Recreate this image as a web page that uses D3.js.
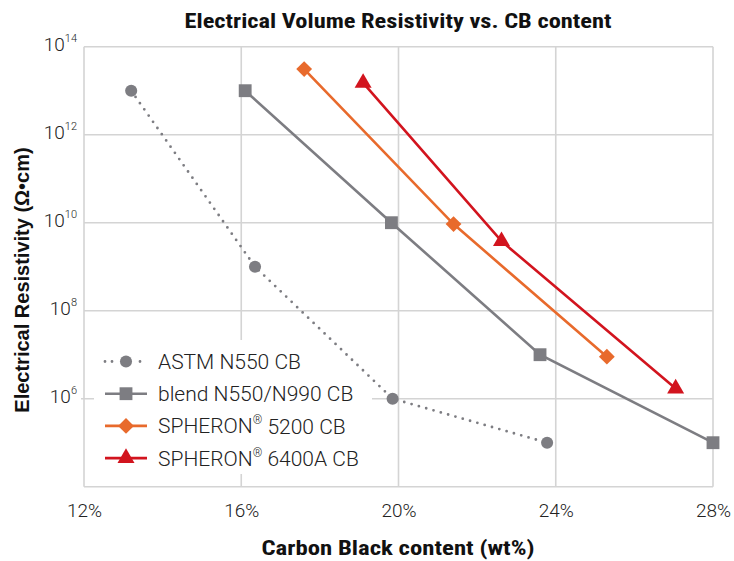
<!DOCTYPE html>
<html><head><meta charset="utf-8">
<script src="https://cdn.jsdelivr.net/npm/d3@7"></script>
<style>
body{margin:0;background:#fff;}
svg{display:block;}
</style></head>
<body><svg id="chart" width="734" height="561"></svg>
<script>
// ---- data ----
const seriesNames = ["ASTM N550 CB", "blend N550/N990 CB", "SPHERON® 5200 CB", "SPHERON® 6400A CB"];
const astmX = [13.2, 16.35, 19.85, 23.78];
const astmY = [1e13, 1e9, 1e6, 1e5];
const blendX = [16.1, 19.82, 23.6, 28.0];
const blendY = [1e13, 1e10, 1e7, 1e5];
const s5200X = [17.6, 21.4, 25.3];
const s5200Y = [3.1e13, 9.3e9, 9e6];
const s6400X = [19.1, 22.62, 27.05];
const s6400Y = [1.5e13, 3.8e9, 1.7e6];
const xTicks = [12, 16, 20, 24, 28];
const yTicks = [4, 6, 8, 10, 12, 14];

const colors = ["#7d7d82", "#7d7d82", "#e86a2c", "#d2141e"];
const symbols = [d3.symbolCircle, d3.symbolSquare, d3.symbolSquare, d3.symbolTriangle];
const symRot = [0, 0, 45, 0];
const symSizes = [115, 165, 125, 125];

const series = [
  {x: astmX, y: astmY},
  {x: blendX, y: blendY},
  {x: s5200X, y: s5200Y},
  {x: s6400X, y: s6400Y}
].map((s, i) => ({name: seriesNames[i], pts: s.x.map((v, j) => [v, s.y[j]]), color: colors[i], symbol: symbols[i], rot: symRot[i], size: symSizes[i], dotted: i === 0}));

const svg = d3.select("#chart");
const L = 84, R = 713, T = 46.7, B = 486.7;
const x = d3.scaleLinear().domain([12, 28]).range([L, R]);
const y = d3.scaleLog().domain([1e4, 1e14]).range([B, T]);

const gridColor = "#d4d4d4";
const tickFont = "Roboto, 'DejaVu Sans', sans-serif";

// grid
svg.append("g").selectAll("line").data(xTicks.slice(1)).join("line")
  .attr("x1", d => x(d)).attr("x2", d => x(d)).attr("y1", T).attr("y2", B)
  .attr("stroke", gridColor).attr("stroke-width", 1.6);
svg.append("g").selectAll("line").data(yTicks.slice(1)).join("line")
  .attr("x1", d => d === 6 ? L - 3 : L).attr("x2", R).attr("y1", d => y(Math.pow(10, d))).attr("y2", d => y(Math.pow(10, d)))
  .attr("stroke", gridColor).attr("stroke-width", 1.6);
svg.append("line").attr("x1", L).attr("x2", L).attr("y1", T).attr("y2", B).attr("stroke", gridColor).attr("stroke-width", 1.6);
svg.append("line").attr("x1", L).attr("x2", R).attr("y1", B).attr("y2", B).attr("stroke", gridColor).attr("stroke-width", 1.6);

// legend background (under data, over grid)
svg.append("rect").attr("x", 94).attr("y", 340).attr("width", 278).attr("height", 134).attr("fill", "#fff");

// x axis labels
const xAxis = d3.axisBottom(x).tickValues(xTicks).tickSize(0).tickPadding(0).tickFormat(d => d + "%");
const gx = svg.append("g").attr("transform", `translate(0,${B + 24})`).call(xAxis);
gx.select(".domain").remove();
gx.selectAll("text").attr("font-family", tickFont).attr("font-weight", 300).attr("font-size", 19).attr("fill", "#222").attr("dy", "0.35em").attr("y", 0);

// y axis labels with superscripts
const yAxis = d3.axisLeft(y).tickValues(yTicks.map(e => Math.pow(10, e))).tickSize(0).tickPadding(0).tickFormat("");
const gy = svg.append("g").attr("transform", `translate(${L - 7},0)`).call(yAxis);
gy.select(".domain").remove();
gy.selectAll(".tick").filter(d => d > 1e4).each(function(d) {
  const t = d3.select(this).select("text");
  t.text(null).attr("font-family", tickFont).attr("font-weight", 300).attr("fill", "#222").attr("text-anchor", "end").attr("x", 0).attr("dy", "0.4em");
  t.append("tspan").attr("font-size", 19).text("10");
  t.append("tspan").attr("font-size", 11).attr("dy", "-0.8em").text(Math.round(Math.log10(d)));
});
gy.selectAll(".tick").filter(d => d <= 1e4).remove();

// lines + markers
const line = d3.line().x(d => x(d[0])).y(d => y(d[1]));
series.forEach(s => {
  svg.append("path").datum(s.pts).attr("d", line).attr("fill", "none")
    .attr("stroke", s.color).attr("stroke-width", s.dotted ? 2.8 : 2.6)
    .attr("stroke-linecap", s.dotted ? "round" : "butt")
    .attr("stroke-dasharray", s.dotted ? "0 7.6" : null);
  svg.append("g").selectAll("path").data(s.pts).join("path")
    .attr("transform", d => `translate(${x(d[0])},${y(d[1])}) rotate(${s.rot})`)
    .attr("d", d3.symbol().type(s.symbol).size(s.size)).attr("fill", s.color);
});

// legend content
const leg = svg.append("g");
series.forEach((s, i) => {
  const cy = 361.5 + i * 32.2;
  leg.append("line").attr("x1", 105).attr("x2", 147).attr("y1", cy).attr("y2", cy)
    .attr("stroke", s.color).attr("stroke-width", s.dotted ? 2.8 : 2.6)
    .attr("stroke-linecap", s.dotted ? "round" : "butt")
    .attr("stroke-dasharray", s.dotted ? "0 7" : null);
  if (s.dotted) leg.append("rect").attr("x", 116).attr("y", cy - 8).attr("width", 20).attr("height", 16).attr("fill", "#fff");
  leg.append("path").attr("transform", `translate(126,${cy}) rotate(${s.rot})`).attr("d", d3.symbol().type(s.symbol).size(s.size)).attr("fill", s.color);
  const parts = s.name.split("®");
  const t = leg.append("text").attr("x", 158).attr("y", cy).attr("dy", "0.36em")
    .attr("font-family", tickFont).attr("font-weight", 300).attr("font-size", 21).attr("fill", "#222");
  t.append("tspan").text(parts[0]);
  if (parts.length > 1) {
    t.append("tspan").attr("font-size", 12).attr("dy", "-0.75em").text("®");
    t.append("tspan").attr("dy", "0.45em").text(parts[1]);
  }
});

// titles
svg.append("text").attr("x", 398).attr("y", 28).attr("text-anchor", "middle")
  .attr("font-family", "'Liberation Sans Narrow', 'Roboto Condensed', sans-serif").attr("font-weight", "bold").attr("font-size", 21).attr("fill", "#111")
  .attr("textLength", 427).attr("lengthAdjust", "spacingAndGlyphs")
  .text("Electrical Volume Resistivity vs. CB content");
svg.append("text").attr("x", 398).attr("y", 555).attr("text-anchor", "middle")
  .attr("font-family", "'Liberation Sans Narrow', 'Roboto Condensed', sans-serif").attr("font-weight", "bold").attr("font-size", 21).attr("fill", "#111")
  .attr("textLength", 273).attr("lengthAdjust", "spacingAndGlyphs")
  .text("Carbon Black content (wt%)");
svg.append("text").attr("transform", "translate(29,280) rotate(-90)").attr("text-anchor", "middle")
  .attr("font-family", "'Liberation Sans', Arial, sans-serif").attr("font-weight", "bold").attr("font-size", 20).attr("fill", "#111")
  .text("Electrical Resistivity (Ω•cm)");
</script>
</body></html>
